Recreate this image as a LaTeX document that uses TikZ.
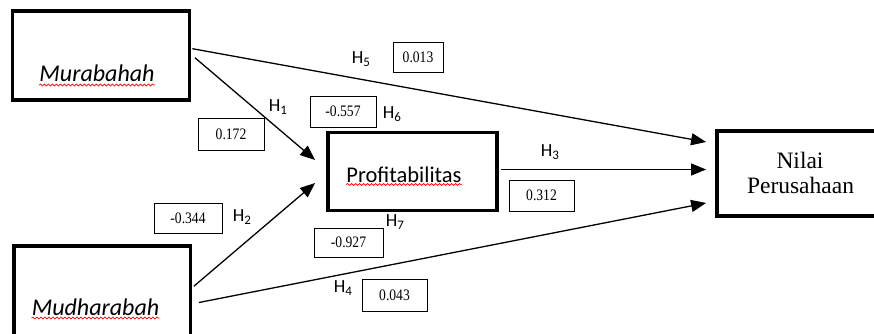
\documentclass[tikz,border=0pt]{standalone}
\usepackage{fontspec}
\setmainfont{Carlito}
\newfontfamily\numfont[FakeStretch=0.85]{Liberation Serif}
\newfontfamily\nilaifont{Liberation Serif}
\usetikzlibrary{arrows.meta,calc,decorations.pathmorphing}
\newcommand{\Hl}[1]{H\raisebox{-0.18em}{\fontsize{13}{13}\selectfont #1}}
\begin{document}
\begin{tikzpicture}[x=1pt,y=-1pt,
  bigbox/.style={draw, line width=3.8pt, inner sep=0pt},
  valbox/.style={draw, fill=white, line width=0.8pt, inner sep=0pt, font=\numfont\fontsize{16}{16}\selectfont},
  hlab/.style={inner sep=0pt, font=\fontsize{18.5}{18.5}\selectfont},
  txt/.style={inner sep=0pt, anchor=base, font=\fontsize{22.5}{22.5}\selectfont},
  arr/.style={line width=1.3pt, -{Triangle[length=15pt,width=12pt]}},
  wave/.style={red, line width=0.7pt, decorate, decoration={snake, amplitude=1pt, segment length=4pt}}]
\path[use as bounding box, clip] (0,0) rectangle (874,334);
\fill[white] (0,0) rectangle (874,334);
% main boxes
\node[bigbox, minimum width=177pt, minimum height=88.7pt] (mur) at (101,55.7) {};
\node[bigbox, minimum width=176.8pt, minimum height=133.7pt] (mud) at (102.1,313.2) {};
\node[bigbox, minimum width=169pt, minimum height=78pt] (pro) at (412.5,171.5) {};
\node[bigbox, minimum width=173pt, minimum height=85pt] (nil) at (803.5,173.5) {};
% texts
\node[txt, font=\itshape\fontsize{24}{24}\selectfont] (murtxt) at (97,82) {Murabahah};
\node[txt, font=\itshape\fontsize{24}{24}\selectfont] (mudtxt) at (95.5,315) {Mudharabah};
\node[txt] (protxt) at (404,182) {Profitabilitas};
\node[txt, font=\nilaifont\fontsize{23.5}{23.5}\selectfont] (niltxt1) at (800,168) {Nilai};
\node[txt, font=\nilaifont\fontsize{23.5}{23.5}\selectfont] (niltxt2) at (800.5,193) {Perusahaan};
\draw[wave] ($(murtxt.base west)+(0,3)$) -- ($(murtxt.base east)+(0,3)$);
\draw[wave] ($(mudtxt.base west)+(0,3)$) -- ($(mudtxt.base east)+(0,3)$);
\draw[wave] ($(protxt.base west)+(0,2.5)$) -- ($(protxt.base east)+(0,2.5)$);
% arrows
\draw[arr] ($(mur.east)+(1,-7)$) -- ($(nil.west)+(-9,-31.5)$);
\draw[arr] ($(mur.east)+(3.5,2)$) -- ($(pro.west)+(-11,-11.5)$);
\draw[arr] ($(mud.east)+(1.5,-27)$) -- ($(pro.west)+(-11,11.5)$);
\draw[arr] ($(pro.east)+(2,-2)$) -- ($(nil.west)+(-9,-4)$);
\draw[arr] ($(mud.east)+(6.5,-10.7)$) -- ($(nil.west)+(-9,29.5)$);
% value boxes
\node[valbox, minimum width=50pt, minimum height=30pt] (v5) at (418,57) {0.013};
\node[valbox, minimum width=66pt, minimum height=31pt] (v6) at (343,111.5) {-0.557};
\node[valbox, minimum width=66pt, minimum height=32pt] (v1) at (231,134) {0.172};
\node[valbox, minimum width=68pt, minimum height=30pt] (v2) at (188,218) {-0.344};
\node[valbox, minimum width=65pt, minimum height=31pt] (v3) at (541.5,195.5) {0.312};
\node[valbox, minimum width=69pt, minimum height=29pt] (v7) at (348.5,242.5) {-0.927};
\node[valbox, minimum width=65pt, minimum height=32pt] (v4) at (394.5,295) {0.043};
% H labels
\node[hlab] (h5) at (361,59) {\Hl{5}};
\node[hlab] (h1) at (278,107) {\Hl{1}};
\node[hlab] (h6) at (392,114) {\Hl{6}};
\node[hlab] (h3) at (550,152) {\Hl{3}};
\node[hlab] (h2) at (242,217) {\Hl{2}};
\node[hlab] (h7) at (395,222) {\Hl{7}};
\node[hlab] (h4) at (343,288) {\Hl{4}};
\end{tikzpicture}
\end{document}
